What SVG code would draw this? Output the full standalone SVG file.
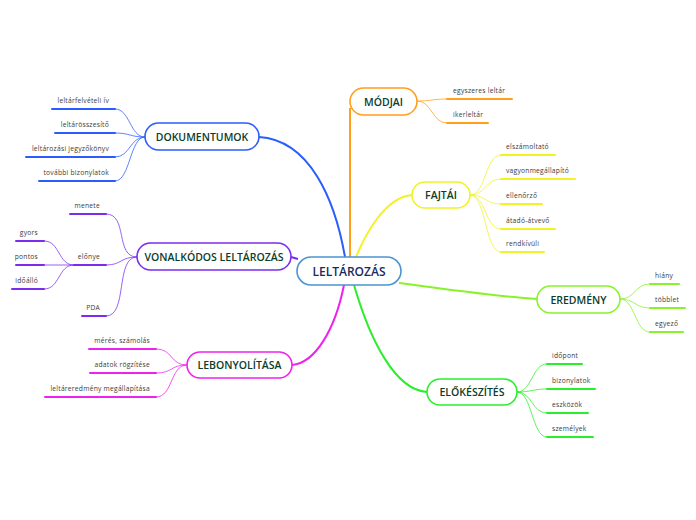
<svg xmlns="http://www.w3.org/2000/svg" width="696" height="520" viewBox="0 0 696 520">
<style>
.main{fill:#ffffff;stroke-width:1.6}
.mt{font-family:"Open Sans","Liberation Sans",sans-serif;font-size:10.5px;font-weight:600;fill:#0b3d2c;text-anchor:middle}
.ct{font-family:"Open Sans","Liberation Sans",sans-serif;font-size:12px;font-weight:600;fill:#1b2b5a;text-anchor:middle}
.lt{font-family:"Open Sans","Liberation Sans",sans-serif;font-size:6.7px;letter-spacing:0.25px;fill:#3a3a3a}
.le{text-anchor:end}
.ul{stroke-width:2;fill:none;stroke-linecap:round}
.sc{stroke-width:1;fill:none;opacity:0.75}
.mc{stroke-width:2;fill:none}
</style>
<rect width="696" height="520" fill="#ffffff"/>
<g id="connectors">
<path class="mc" stroke="#2a5cff" d="M259,137 C310,140 335,200 345,257"/>
<path class="mc" stroke="#ff9f1a" d="M350,108 L350,257"/>
<path class="mc" stroke="#f2f224" d="M412,195 C385,197 365,235 356,257"/>
<path class="mc" stroke="#88f22a" d="M399,283 C450,290 500,297 537,299"/>
<path class="mc" stroke="#2aee2a" d="M354,285 C370,340 395,390 427,392"/>
<path class="mc" stroke="#ee22ee" d="M344,285 C335,330 315,363 292,365"/>
<path class="mc" stroke="#7a2cf0" d="M291,257 L298,259"/>
<g stroke="#2a5cff">
<path class="sc" d="M145,137 C130,137 130,109 115,109"/>
<path class="sc" d="M145,137 C130,137 130,133 115,133"/>
<path class="sc" d="M145,137 C130,137 130,157 115,157"/>
<path class="sc" d="M145,137 C130,137 130,181 115,181"/>
</g>
<g stroke="#7a2cf0">
<path class="sc" d="M137,257 C115,257 128,214 106,214"/>
<path class="sc" d="M137,257 C120,257 122,265 106,265"/>
<path class="sc" d="M137,257 C115,257 128,316 106,316"/>
<path class="sc" d="M74,265 C58,265 60,241 44,241"/>
<path class="sc" d="M74,265 L44,265"/>
<path class="sc" d="M74,265 C58,265 60,289 44,289"/>
</g>
<g stroke="#ee22ee">
<path class="sc" d="M187,365 C170,365 173,349 156,349"/>
<path class="sc" d="M187,365 C170,365 173,373 156,373"/>
<path class="sc" d="M187,365 C170,365 173,397 156,397"/>
</g>
<g stroke="#ff9f1a">
<path class="sc" d="M417,101 C432,101 432,99 447,99"/>
<path class="sc" d="M417,101 C432,101 432,123 447,123"/>
</g>
<g stroke="#f2f224">
<path class="sc" d="M470,195 C486,195 485,155 501,155"/>
<path class="sc" d="M470,195 C486,195 485,179 501,179"/>
<path class="sc" d="M470,195 C486,195 485,204 501,204"/>
<path class="sc" d="M470,195 C486,195 485,229 501,229"/>
<path class="sc" d="M470,195 C486,195 485,252 501,252"/>
</g>
<g stroke="#88f22a">
<path class="sc" d="M620,299 C635,299 635,284 650,284"/>
<path class="sc" d="M620,299 C635,299 635,308 650,308"/>
<path class="sc" d="M620,299 C635,299 635,332 650,332"/>
</g>
<g stroke="#2aee2a">
<path class="sc" d="M517,392 C532,392 532,364 547,364"/>
<path class="sc" d="M517,392 C532,392 532,389 547,389"/>
<path class="sc" d="M517,392 C532,392 532,413 547,413"/>
<path class="sc" d="M517,392 C532,392 532,437 547,437"/>
</g>
</g>
<g id="center">
<rect class="main" x="297" y="257" width="104" height="28" rx="14" stroke="#4a94d4"/>
<text class="ct" x="349" y="276">LELTÁROZÁS</text>
</g>
<g id="dokumentumok">
<rect class="main" x="145" y="123" width="114" height="27" rx="13.5" stroke="#2a5cff"/>
<text class="mt" x="202" y="140.5">DOKUMENTUMOK</text>
<line class="ul" stroke="#2a5cff" x1="52" y1="109" x2="115" y2="109"/>
<text class="lt le" x="109" y="103">leltárfelvételi ív</text>
<line class="ul" stroke="#2a5cff" x1="55" y1="133" x2="115" y2="133"/>
<text class="lt le" x="109" y="127">leltárösszesítő</text>
<line class="ul" stroke="#2a5cff" x1="26" y1="157" x2="115" y2="157"/>
<text class="lt le" x="109" y="151">leltározási jegyzőkönyv</text>
<line class="ul" stroke="#2a5cff" x1="39" y1="181" x2="115" y2="181"/>
<text class="lt le" x="109" y="175">további bizonylatok</text>
</g>
<g id="vonalkodos">
<rect class="main" x="137" y="243" width="154" height="27" rx="13.5" stroke="#7a2cf0"/>
<text class="mt" x="214" y="260.5">VONALKÓDOS LELTÁROZÁS</text>
<line class="ul" stroke="#7a2cf0" x1="70" y1="214" x2="106" y2="214"/>
<text class="lt le" x="100" y="208">menete</text>
<line class="ul" stroke="#7a2cf0" x1="74" y1="265" x2="106" y2="265"/>
<text class="lt le" x="100" y="259">előnye</text>
<line class="ul" stroke="#7a2cf0" x1="82" y1="316" x2="106" y2="316"/>
<text class="lt le" x="100" y="310">PDA</text>
<line class="ul" stroke="#7a2cf0" x1="16" y1="241" x2="44" y2="241"/>
<text class="lt le" x="38" y="235">gyors</text>
<line class="ul" stroke="#7a2cf0" x1="16" y1="265" x2="44" y2="265"/>
<text class="lt le" x="38" y="259">pontos</text>
<line class="ul" stroke="#7a2cf0" x1="12" y1="289" x2="44" y2="289"/>
<text class="lt le" x="38" y="283">időálló</text>
</g>
<g id="lebonyolitasa">
<rect class="main" x="187" y="352" width="105" height="26" rx="13" stroke="#ee22ee"/>
<text class="mt" x="239.5" y="369">LEBONYOLÍTÁSA</text>
<line class="ul" stroke="#ee22ee" x1="89" y1="349" x2="156" y2="349"/>
<text class="lt le" x="150" y="343">mérés, számolás</text>
<line class="ul" stroke="#ee22ee" x1="90" y1="373" x2="156" y2="373"/>
<text class="lt le" x="150" y="367">adatok rögzítése</text>
<line class="ul" stroke="#ee22ee" x1="45" y1="397" x2="156" y2="397"/>
<text class="lt le" x="150" y="391">leltáreredmény megállapítása</text>
</g>
<g id="modjai">
<rect class="main" x="350" y="88" width="67" height="27" rx="13.5" stroke="#ff9f1a"/>
<text class="mt" x="383.5" y="105.5">MÓDJAI</text>
<line class="ul" stroke="#ff9f1a" x1="447" y1="99" x2="512" y2="99"/>
<text class="lt" x="453" y="93">egyszeres leltár</text>
<line class="ul" stroke="#ff9f1a" x1="447" y1="123" x2="488" y2="123"/>
<text class="lt" x="453" y="117">ikerleltár</text>
</g>
<g id="fajtai">
<rect class="main" x="412" y="182" width="58" height="26" rx="13" stroke="#f2f224"/>
<text class="mt" x="441" y="199">FAJTÁI</text>
<line class="ul" stroke="#f2f224" x1="501" y1="155" x2="555" y2="155"/>
<text class="lt" x="506" y="149">elszámoltató</text>
<line class="ul" stroke="#f2f224" x1="501" y1="179" x2="575" y2="179"/>
<text class="lt" x="506" y="173">vagyonmegállapító</text>
<line class="ul" stroke="#f2f224" x1="501" y1="204" x2="542" y2="204"/>
<text class="lt" x="506" y="198">ellenőrző</text>
<line class="ul" stroke="#f2f224" x1="501" y1="229" x2="555" y2="229"/>
<text class="lt" x="506" y="223">átadó-átvevő</text>
<line class="ul" stroke="#f2f224" x1="501" y1="252" x2="544" y2="252"/>
<text class="lt" x="506" y="246">rendkívüli</text>
</g>
<g id="eredmeny">
<rect class="main" x="537" y="286" width="83" height="27" rx="13.5" stroke="#88f22a"/>
<text class="mt" x="578.5" y="303.5">EREDMÉNY</text>
<line class="ul" stroke="#88f22a" x1="650" y1="284" x2="679" y2="284"/>
<text class="lt" x="655" y="278">hiány</text>
<line class="ul" stroke="#88f22a" x1="650" y1="308" x2="685" y2="308"/>
<text class="lt" x="655" y="302">többlet</text>
<line class="ul" stroke="#88f22a" x1="650" y1="332" x2="683" y2="332"/>
<text class="lt" x="655" y="326">egyező</text>
</g>
<g id="elokeszites">
<rect class="main" x="427" y="379" width="90" height="26" rx="13" stroke="#2aee2a"/>
<text class="mt" x="472" y="396">ELŐKÉSZÍTÉS</text>
<line class="ul" stroke="#2aee2a" x1="547" y1="364" x2="582" y2="364"/>
<text class="lt" x="552" y="358">időpont</text>
<line class="ul" stroke="#2aee2a" x1="547" y1="389" x2="595" y2="389"/>
<text class="lt" x="552" y="383">bizonylatok</text>
<line class="ul" stroke="#2aee2a" x1="547" y1="413" x2="588" y2="413"/>
<text class="lt" x="552" y="407">eszközök</text>
<line class="ul" stroke="#2aee2a" x1="547" y1="437" x2="593" y2="437"/>
<text class="lt" x="552" y="431">személyek</text>
</g>
</svg>
